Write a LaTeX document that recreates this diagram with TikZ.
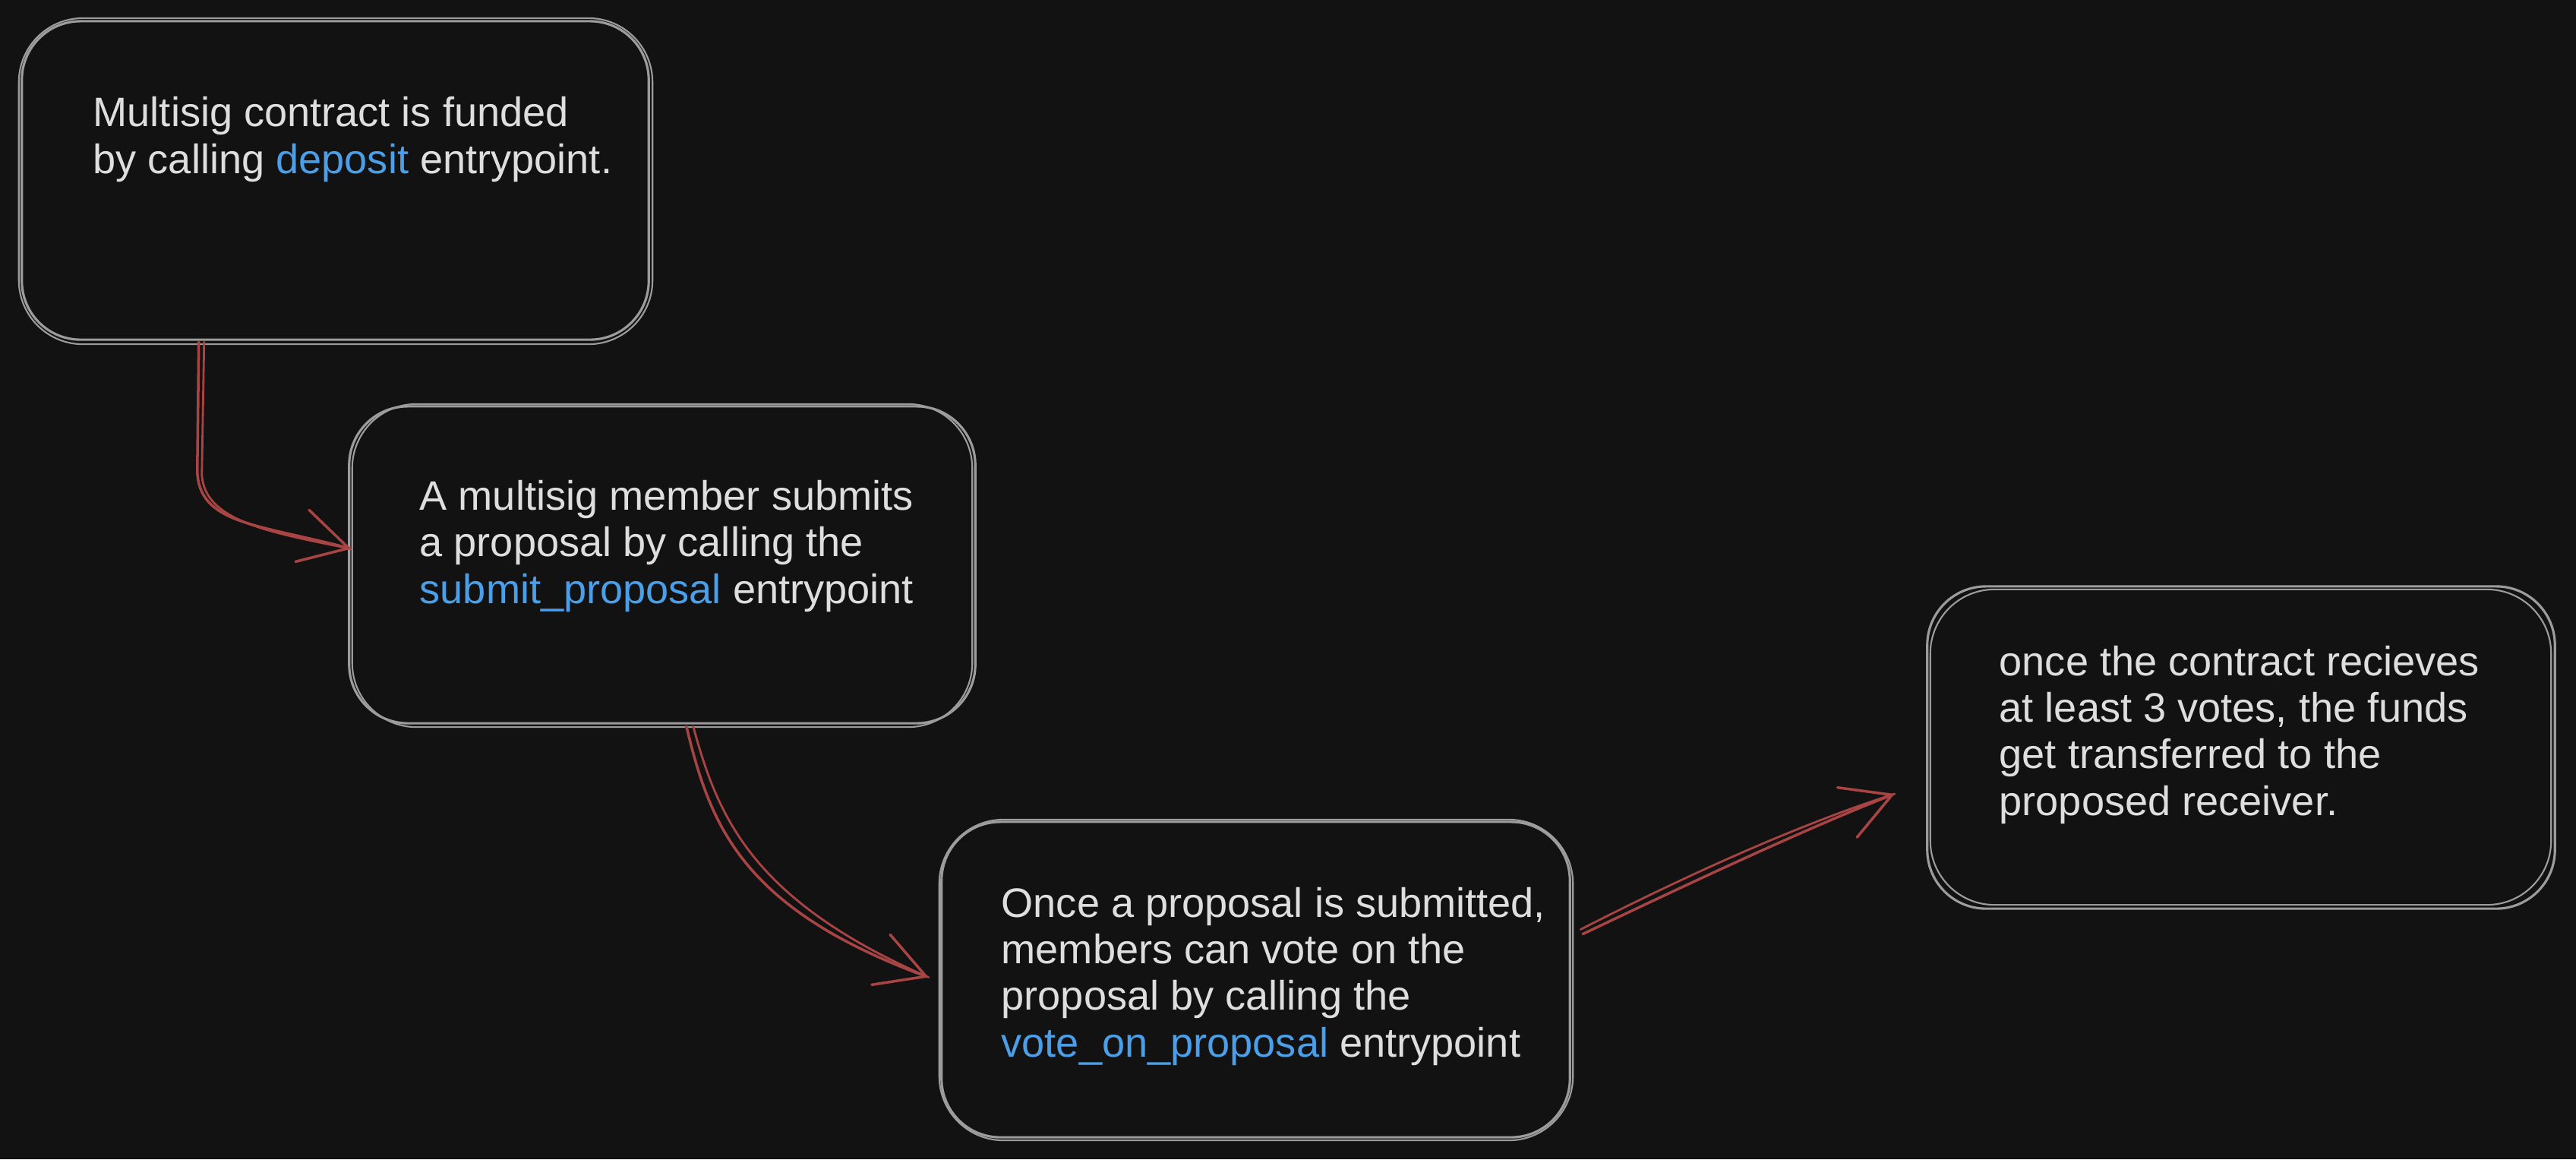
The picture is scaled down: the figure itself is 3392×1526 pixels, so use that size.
\documentclass[tikz,border=0pt]{standalone}
\usepackage{fontspec}
\setmainfont{Liberation Sans}
\usetikzlibrary{arrows.meta,calc}
\definecolor{bgc}{HTML}{121212}
\definecolor{boxc}{HTML}{9C9C9C}
\definecolor{txtc}{HTML}{DEDEDE}
\definecolor{bluec}{HTML}{4A9FE8}
\definecolor{redc}{HTML}{A84444}
\tikzset{
  box/.style={draw=boxc, line width=0.9pt, rounded corners=22pt, inner sep=0pt, outer sep=0pt},
  boxsketch/.style={draw=boxc, line width=0.6pt, rounded corners=24pt},
  txt/.style={text=txtc, anchor=base west, align=left, inner sep=0pt,
    font=\fontsize{15.4pt}{17.4pt}\selectfont},
  conn/.style={draw=redc, line width=1pt, line cap=round,
    -{Straight Barb[length=18pt,width=20pt,line cap=round]}},
  connsketch/.style={draw=redc, line width=0.8pt, line cap=round},
}
\newcommand{\kw}[1]{\textcolor{bluec}{#1}}
\begin{document}
\begin{tikzpicture}[x=0.01cm,y=-0.01cm]
\fill[bgc] (0,0) rectangle (3392,1526);
\useasboundingbox (0,0) rectangle (3392,1526);

% boxes
\node[box, minimum width=8.25cm, minimum height=4.19cm] (b1) at (441.5,237.5) {};
\node[box, minimum width=8.24cm, minimum height=4.17cm] (b2) at (872,743.5) {};
\node[box, minimum width=8.27cm, minimum height=4.15cm] (b3) at (1653.5,1289.5) {};
\node[box, minimum width=8.26cm, minimum height=4.24cm] (b4) at (2951,984) {};

% sketchy second strokes
\draw[boxsketch] ([shift={(-4,6)}]b1.south west) rectangle ([shift={(5,-4)}]b1.north east);
\draw[boxsketch] ([shift={(4,5)}]b2.south west) rectangle ([shift={(-4,-3)}]b2.north east);
\draw[boxsketch] ([shift={(-3,4)}]b3.south west) rectangle ([shift={(4,-3)}]b3.north east);
\draw[boxsketch] ([shift={(4,-5)}]b4.south west) rectangle ([shift={(-5,4)}]b4.north east);

% texts (anchored at the baseline of the last line)
\node[txt] (t1) at (122,228) {Multisig contract is funded\\by calling \kw{deposit} entrypoint.};
\node[txt] (t2) at (552,794) {A multisig member submits\\a proposal by calling the\\\kw{submit\_proposal} entrypoint};
\node[txt] (t3) at (1318,1391) {Once a proposal is submitted,\\members can vote on the\\proposal by calling the\\\kw{vote\_on\_proposal} entrypoint};
\node[txt] (t4) at (2632,1073) {once the contract recieves\\at least 3 votes, the funds\\get transferred to the\\proposed receiver.};

% connector end points
\coordinate (s1) at ($(b1.south west)+(233,3)$);
\coordinate (e1) at ($(b2.west)+(3,-21)$);
\coordinate (s2) at ($(b2.south west)+(444,4)$);
\coordinate (e2) at ($(b3.west)+(-17,-3)$);
\coordinate (s3) at ($(b3.east)+(17,-60)$);
\coordinate (e3) at ($(b4.west)+(-43,61)$);

% connectors
\draw[conn] (s1) -- ++(-2,170) .. controls +(2,70) and (340,690) .. (e1);
\draw[connsketch] ($(s1)+(7,0)$) -- ++(-3,175) .. controls +(4,60) and (350,700) .. (e1);

\draw[conn] (s2) .. controls (935,1085) and (975,1195) .. (e2);
\draw[connsketch] ($(s2)+(9,0)$) .. controls (945,1075) and (990,1185) .. (e2);

\draw[conn] (s3) .. controls (2230,1160) and (2380,1090) .. (e3);
\draw[connsketch] ($(s3)+(-3,-6)$) .. controls (2225,1150) and (2370,1085) .. (e3);
\end{tikzpicture}
\end{document}
